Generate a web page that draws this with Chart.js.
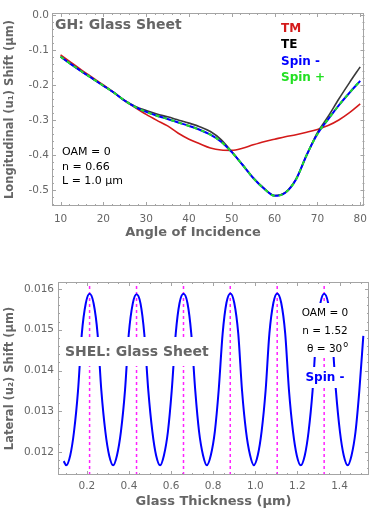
<!DOCTYPE html>
<html>
<head>
<meta charset="utf-8">
<script src="https://cdn.jsdelivr.net/npm/chart.js@4"></script>
<style>
  body { margin: 0; background: #fff; }
  #wrap { position: relative; width: 374px; height: 510px; }
  canvas { position: absolute; left: 0; }
</style>
</head>
<body>
<div id="wrap">
  <canvas id="gh" width="374" height="245" style="top:0px"></canvas>
  <canvas id="shel" width="374" height="260" style="top:250px"></canvas>
</div>
<script>
// --- GH shift vs angle of incidence (top panel)
const angles = [10, 12.5, 15, 17.5, 20, 22.5, 25, 27.5, 30, 32.5, 35, 37.5, 40, 42.5, 45, 47.5, 50, 52.5, 55, 57.5, 60, 62.5, 65, 67.5, 70, 72.5, 75, 77.5, 80];
const tmShift = [-0.114, -0.136, -0.158, -0.179, -0.200, -0.222, -0.245, -0.265, -0.284, -0.301, -0.317, -0.338, -0.355, -0.368, -0.380, -0.386, -0.387, -0.381, -0.371, -0.362, -0.355, -0.348, -0.342, -0.335, -0.327, -0.316, -0.300, -0.279, -0.254];
const teShift = [-0.119, -0.141, -0.162, -0.182, -0.202, -0.222, -0.244, -0.261, -0.273, -0.283, -0.291, -0.300, -0.309, -0.319, -0.333, -0.356, -0.391, -0.428, -0.465, -0.495, -0.516, -0.507, -0.469, -0.400, -0.336, -0.290, -0.240, -0.193, -0.148];
const spinMinusShift = [-0.119, -0.141, -0.162, -0.182, -0.202, -0.222, -0.245, -0.263, -0.277, -0.288, -0.297, -0.307, -0.317, -0.328, -0.342, -0.362, -0.392, -0.428, -0.466, -0.496, -0.517, -0.508, -0.470, -0.400, -0.340, -0.298, -0.258, -0.222, -0.188];
const spinPlusShift = [-0.119, -0.141, -0.162, -0.182, -0.202, -0.222, -0.245, -0.263, -0.277, -0.288, -0.297, -0.307, -0.317, -0.328, -0.342, -0.362, -0.392, -0.428, -0.466, -0.496, -0.517, -0.508, -0.470, -0.400, -0.340, -0.298, -0.258, -0.222, -0.188];
const angleTicks = [10, 20, 30, 40, 50, 60, 70, 80];
const longTicks = [0, -0.1, -0.2, -0.3, -0.4, -0.5];

// --- SHEL lateral shift vs glass thickness (bottom panel)
const thickness = [0.090,
  0.102, 0.121, 0.139, 0.158, 0.176, 0.195, 0.213, 0.232, 0.251, 0.269, 0.288, 0.306,
  0.325, 0.343, 0.362, 0.381, 0.399, 0.418, 0.436, 0.455, 0.473, 0.492, 0.511, 0.529,
  0.548, 0.566, 0.585, 0.603, 0.622, 0.640, 0.659, 0.678, 0.696, 0.715, 0.733, 0.752,
  0.770, 0.789, 0.808, 0.826, 0.845, 0.863, 0.882, 0.900, 0.919, 0.937, 0.956, 0.975,
  0.993, 1.012, 1.030, 1.049, 1.067, 1.086, 1.104, 1.123, 1.142, 1.160, 1.179, 1.197,
  1.216, 1.235, 1.253, 1.272, 1.290, 1.309, 1.327, 1.346, 1.364, 1.383, 1.402, 1.420,
  1.439, 1.457, 1.476, 1.494, 1.513];
const lateralShift = [0.01178,
  0.01168, 0.01192, 0.01250, 0.01350, 0.01490, 0.01565, 0.01588, 0.01565, 0.01490, 0.01350, 0.01250, 0.01192,
  0.01168, 0.01192, 0.01251, 0.01350, 0.01489, 0.01564, 0.01587, 0.01564, 0.01489, 0.01350, 0.01251, 0.01192,
  0.01168, 0.01192, 0.01250, 0.01350, 0.01490, 0.01565, 0.01588, 0.01565, 0.01490, 0.01350, 0.01250, 0.01192,
  0.01168, 0.01193, 0.01251, 0.01351, 0.01491, 0.01566, 0.01589, 0.01566, 0.01491, 0.01351, 0.01251, 0.01193,
  0.01168, 0.01193, 0.01251, 0.01351, 0.01491, 0.01566, 0.01589, 0.01566, 0.01491, 0.01351, 0.01251, 0.01192,
  0.01168, 0.01192, 0.01250, 0.01350, 0.01490, 0.01565, 0.01588, 0.01565, 0.01490, 0.01350, 0.01250, 0.01192,
  0.01168, 0.01192, 0.01250, 0.01350, 0.01485];
const peakThickness = [0.213, 0.436, 0.659, 0.881, 1.104, 1.327];
const thicknessTicks = [0.2, 0.4, 0.6, 0.8, 1.0, 1.2, 1.4];
const lateralTicks = [0.012, 0.013, 0.014, 0.015, 0.016];

const LAT_MIN = 0.01144, LAT_MAX = 0.01617;

const pts = (xs, ys) => xs.map((x, i) => ({ x: x, y: ys[i] }));

// frame with inward ticks on all four sides (Mathematica style)
const frameTicks = {
  id: 'frameTicks',
  afterDraw(chart, args, o) {
    const { ctx, chartArea: a } = chart;
    const sx = chart.scales.x, sy = chart.scales.y;
    ctx.save();
    ctx.strokeStyle = '#a4a4a4';
    ctx.lineWidth = 1;
    ctx.strokeRect(Math.round(a.left) + 0.5, Math.round(a.top) + 0.5,
      Math.round(a.right - a.left) - 1, Math.round(a.bottom - a.top) - 1);
    ctx.beginPath();
    for (let i = Math.ceil(sx.min / o.xMinor - 1e-6); i * o.xMinor <= sx.max + 1e-9; i++) {
      const v = i * o.xMinor;
      const r = v / o.xMajor;
      const len = Math.abs(r - Math.round(r)) < 1e-6 ? 4 : 2;
      const px = Math.round(sx.getPixelForValue(v)) + 0.5;
      ctx.moveTo(px, a.bottom); ctx.lineTo(px, a.bottom - len);
      ctx.moveTo(px, a.top); ctx.lineTo(px, a.top + len);
    }
    for (let i = Math.ceil(sy.min / o.yMinor - 1e-6); i * o.yMinor <= sy.max + 1e-12; i++) {
      const v = i * o.yMinor;
      const r = v / o.yMajor;
      const len = Math.abs(r - Math.round(r)) < 1e-6 ? 4 : 2;
      const py = Math.round(sy.getPixelForValue(v)) + 0.5;
      ctx.moveTo(a.left, py); ctx.lineTo(a.left + len, py);
      ctx.moveTo(a.right, py); ctx.lineTo(a.right - len, py);
    }
    ctx.stroke();
    ctx.restore();
  }
};

// in-plot labels, with white boxes behind them
const notes = {
  id: 'notes',
  afterDatasetsDraw(chart, args, o) {
    const ctx = chart.ctx;
    ctx.save();
    ctx.fillStyle = '#fff';
    (o.boxes || []).forEach(b => ctx.fillRect(b[0], b[1], b[2], b[3]));
    (o.items || []).forEach(t => {
      ctx.font = t.font;
      ctx.fillStyle = t.color;
      ctx.textAlign = t.align || 'left';
      ctx.textBaseline = 'middle';
      ctx.fillText(t.text, t.x, t.y);
      if (t.sup) {
        const w = ctx.measureText(t.text).width;
        ctx.font = '8px "DejaVu Sans"';
        ctx.textAlign = 'left';
        ctx.fillText(t.sup, t.x + w + 1, t.y - 4);
      }
    });
    ctx.restore();
  }
};

const tickFont = { family: 'DejaVu Sans', size: 10.5 };
const GRAY = '#666';

new Chart(document.getElementById('gh'), {
  type: 'scatter',
  data: {
    datasets: [
      { label: 'Spin +', data: pts(angles, spinPlusShift), borderColor: '#22e022', borderWidth: 2, borderDash: [4, 4] },
      { label: 'Spin -', data: pts(angles, spinMinusShift), borderColor: '#0000ff', borderWidth: 2 },
      { label: 'TE', data: pts(angles, teShift), borderColor: '#3a3a3a', borderWidth: 1.6 },
      { label: 'TM', data: pts(angles, tmShift), borderColor: '#d41a1a', borderWidth: 1.6 }
    ].map(d => Object.assign(d, { showLine: true, pointRadius: 0, cubicInterpolationMode: 'monotone', fill: false }))
  },
  options: {
    responsive: false,
    animation: false,
    layout: { padding: { top: 13, right: 8, left: 0, bottom: 0 } },
    plugins: {
      legend: { display: false },
      tooltip: { enabled: false },
      frameTicks: { xMinor: 2, xMajor: 10, yMinor: 0.02, yMajor: 0.1 },
      notes: {
        items: [
          { text: 'GH: Glass Sheet', x: 55, y: 25, font: 'bold 14px "DejaVu Sans"', color: GRAY },
          { text: 'TM', x: 281, y: 29, font: 'bold 12px "DejaVu Sans"', color: '#d41a1a' },
          { text: 'TE', x: 281, y: 45, font: 'bold 12px "DejaVu Sans"', color: '#000' },
          { text: 'Spin -', x: 281, y: 62, font: 'bold 12px "DejaVu Sans"', color: '#0000ff' },
          { text: 'Spin +', x: 281, y: 78, font: 'bold 12px "DejaVu Sans"', color: '#22e022' },
          { text: 'OAM = 0', x: 62, y: 152, font: '11px "DejaVu Sans"', color: '#000' },
          { text: 'n = 0.66', x: 62, y: 167, font: '11px "DejaVu Sans"', color: '#000' },
          { text: 'L = 1.0 \u03bcm', x: 62, y: 181, font: '11px "DejaVu Sans"', color: '#000' },
          { text: 'Angle of Incidence', x: 193, y: 233, align: 'center', font: 'bold 13px "DejaVu Sans"', color: GRAY }
        ]
      }
    },
    scales: {
      x: {
        type: 'linear', min: 8, max: 81,
        afterBuildTicks: s => { s.ticks = angleTicks.map(v => ({ value: v })); },
        afterFit: s => { s.height = 39; },
        grid: { display: false, drawTicks: false },
        border: { display: false },
        ticks: { color: GRAY, font: tickFont, padding: 7, maxRotation: 0, autoSkip: false }
      },
      y: {
        type: 'linear', min: -0.546, max: 0.006,
        afterBuildTicks: s => { s.ticks = longTicks.map(v => ({ value: v })); },
        afterFit: s => { s.width = 52; },
        grid: { display: false, drawTicks: false },
        border: { display: false },
        ticks: { color: GRAY, font: tickFont, padding: 3, autoSkip: false, callback: v => v.toFixed(1) },
        title: {
          display: true, text: 'Longitudinal (u\u2081) Shift (\u03bcm)', color: GRAY,
          font: { family: 'DejaVu Sans', size: 11.5, weight: 'bold' }, padding: { top: 3, bottom: 0 }
        }
      }
    }
  },
  plugins: [frameTicks, notes]
});

const peakLines = peakThickness.map(p => ({
  data: [{ x: p, y: LAT_MIN }, { x: p, y: LAT_MAX }],
  showLine: true, pointRadius: 0, borderColor: '#ff20ff', borderWidth: 1.5, borderDash: [3, 3]
}));

new Chart(document.getElementById('shel'), {
  type: 'scatter',
  data: {
    datasets: [
      { label: 'Spin -', data: pts(thickness, lateralShift), showLine: true, pointRadius: 0,
        borderColor: '#0000ff', borderWidth: 2, cubicInterpolationMode: 'monotone' }
    ].concat(peakLines)
  },
  options: {
    responsive: false,
    animation: false,
    layout: { padding: { top: 32, right: 5, left: 0, bottom: 0 } },
    plugins: {
      legend: { display: false },
      tooltip: { enabled: false },
      frameTicks: { xMinor: 0.05, xMajor: 0.2, yMinor: 0.0002, yMajor: 0.001 },
      notes: {
        boxes: [[62, 87, 154, 29], [298, 53, 54, 54], [300, 117, 50, 21]],
        items: [
          { text: 'SHEL: Glass Sheet', x: 65, y: 102, font: 'bold 14px "DejaVu Sans"', color: GRAY },
          { text: 'OAM = 0', x: 325, y: 63, align: 'center', font: '10.5px "DejaVu Sans"', color: '#000' },
          { text: 'n = 1.52', x: 325, y: 81, align: 'center', font: '10.5px "DejaVu Sans"', color: '#000' },
          { text: '\u03b8 = 30', sup: 'o', x: 307, y: 99, font: '10.5px "DejaVu Sans"', color: '#000' },
          { text: 'Spin -', x: 325, y: 128, align: 'center', font: 'bold 12px "DejaVu Sans"', color: '#0000ff' }
        ]
      }
    },
    scales: {
      x: {
        type: 'linear', min: 0.063, max: 1.54,
        afterBuildTicks: s => { s.ticks = thicknessTicks.map(v => ({ value: v })); },
        afterFit: s => { s.height = 35; },
        grid: { display: false, drawTicks: false },
        border: { display: false },
        ticks: { color: GRAY, font: tickFont, padding: 5, maxRotation: 0, autoSkip: false, callback: v => v.toFixed(1) },
        title: {
          display: true, text: 'Glass Thickness (\u03bcm)', color: GRAY,
          font: { family: 'DejaVu Sans', size: 13, weight: 'bold' }, padding: { top: 0, bottom: 1 }
        }
      },
      y: {
        type: 'linear', min: LAT_MIN, max: LAT_MAX,
        afterBuildTicks: s => { s.ticks = lateralTicks.map(v => ({ value: v })); },
        afterFit: s => { s.width = 58; },
        grid: { display: false, drawTicks: false },
        border: { display: false },
        ticks: { color: GRAY, font: tickFont, padding: 4, autoSkip: false, callback: v => v.toFixed(3) },
        title: {
          display: true, text: 'Lateral (u\u2082) Shift (\u03bcm)', color: GRAY,
          font: { family: 'DejaVu Sans', size: 11.5, weight: 'bold' }, padding: { top: 3, bottom: 0 }
        }
      }
    }
  },
  plugins: [frameTicks, notes]
});
</script>
</body>
</html>
